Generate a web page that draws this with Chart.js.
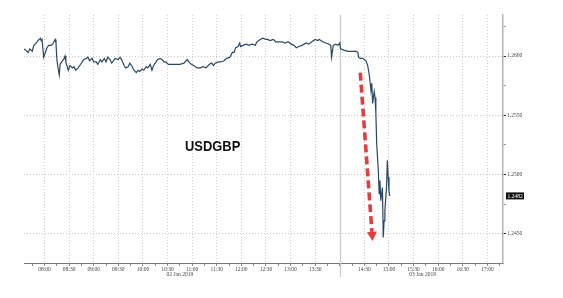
<!DOCTYPE html>
<html>
<head>
<meta charset="utf-8">
<script src="https://cdn.jsdelivr.net/npm/chart.js@4.4.1/dist/chart.umd.min.js"></script>
<style>
  html, body { margin: 0; padding: 0; background: #fff; }
  #wrap { width: 563px; height: 298px; position: relative; }
</style>
</head>
<body>
<div id="wrap"><canvas id="fxChart"></canvas></div>
<script>
// USDGBP, 02-03 Jan 2019 (times hh:mm)
const times = [
  '07:35','07:37','07:40','07:42','07:45','07:47','07:50','07:52','07:55','07:56','07:57','07:59',
  '08:01','08:03','08:05','08:08','08:10','08:13','08:14','08:15','08:16','08:18','08:19','08:21',
  '08:24','08:25','08:26','08:29','08:31','08:34','08:36','08:38','08:41','08:43','08:46','08:48',
  '08:51','08:53','08:55','08:58','09:00','09:03','09:05','09:08','09:10','09:13','09:15','09:17',
  '09:20','09:22','09:26','09:30','09:32','09:34','09:37','09:39','09:42','09:44','09:47','09:49',
  '09:52','09:54','09:56','09:59','10:01','10:04','10:06','10:09','10:11','10:13','10:16','10:18',
  '10:21','10:23','10:26','10:28','10:31','10:35','10:40','10:45','10:50','10:54','10:56','10:59',
  '11:02','11:06','11:10','11:13','11:17','11:21','11:24','11:26','11:28','11:32','11:35','11:39',
  '11:42','11:46','11:49','11:51','11:53','11:56','11:58','11:59','12:02','12:06','12:09','12:13',
  '12:17','12:19','12:23','12:26','12:30','12:32','12:35','12:39','12:42','12:46','12:50','12:53',
  '12:57','13:01','13:04','13:07','13:10','13:14','13:19','13:22','13:26','13:30','13:33','13:35',
  '13:39','13:43','13:47','13:49','13:50','13:52','13:55','13:58','14:00','14:01','14:05','14:10',
  '14:15','14:20','14:22','14:23','14:25','14:28','14:32','14:34','14:36','14:38','14:39','14:40',
  '14:42','14:43','14:44','14:45','14:47','14:48','14:49','14:50','14:52','14:53','14:54','14:55',
  '14:57','14:58','14:59','15:00','15:01'
];
const rates = [
  1.2606,1.2605,1.2603,1.2606,1.2604,1.2609,1.2611,1.2613,1.2615,1.2613,1.2614,1.2599,
  1.2603,1.2607,1.2609,1.2609,1.2610,1.2614,1.2611,1.2598,1.2592,1.2584,1.2593,1.2595,
  1.2598,1.2600,1.2595,1.2588,1.2592,1.2590,1.2591,1.2588,1.2590,1.2592,1.2595,1.2597,
  1.2598,1.2599,1.2596,1.2598,1.2595,1.2595,1.2593,1.2597,1.2595,1.2598,1.2595,1.2599,
  1.2597,1.2594,1.2598,1.2597,1.2599,1.2597,1.2592,1.2590,1.2591,1.2594,1.2591,1.2588,
  1.2586,1.2588,1.2587,1.2589,1.2588,1.2591,1.2590,1.2593,1.2588,1.2592,1.2595,1.2597,
  1.2598,1.2597,1.2595,1.2595,1.2593,1.2593,1.2593,1.2593,1.2594,1.2597,1.2595,1.2593,
  1.2592,1.2590,1.2590,1.2591,1.2590,1.2593,1.2594,1.2592,1.2594,1.2595,1.2595,1.2596,
  1.2598,1.2599,1.2603,1.2603,1.2607,1.2608,1.2611,1.2608,1.2609,1.2610,1.2609,1.2610,
  1.2609,1.2612,1.2614,1.2615,1.2614,1.2614,1.2613,1.2614,1.2612,1.2612,1.2612,1.2611,
  1.2612,1.2610,1.2609,1.2607,1.2608,1.2609,1.2611,1.2610,1.2612,1.2614,1.2613,1.2614,
  1.2612,1.2611,1.2610,1.2609,1.2599,1.2609,1.2610,1.2609,1.2611,1.2606,1.2605,1.2604,
  1.2604,1.2604,1.2603,1.2599,1.2598,1.2598,1.2596,1.2592,1.2584,1.2571,1.2577,1.2560,
  1.2570,1.2565,1.2552,1.2526,1.2503,1.2484,1.2495,1.2478,1.2489,1.2447,1.2461,1.2470,
  1.2489,1.2512,1.2498,1.2486,1.2482
];

const xTickLabels = ['08:00','08:30','09:00','09:30','10:00','10:30','11:00','11:30','12:00','12:30',
  '13:00','13:30','14:30','15:00','15:30','16:00','16:30','17:00'];
const yMajor = [1.2450, 1.2500, 1.2550, 1.2600];
const yMinor = [1.2475, 1.2525, 1.2575, 1.2625];
const dateLabels = ['02 Jan 2019', '03 Jan 2019'];
const dateLabelTimes = ['10:45', '15:41'];
const dayBreak = '14:00';
const title = 'USDGBP';
const titleAt = ['11:25', 1.2523];
const arrowFrom = ['14:25', 1.2586];
const arrowTo = ['14:40', 1.2444];

function mins(t) {
  const p = t.split(':');
  return (+p[0]) * 60 + (+p[1]);
}
function hhmm(m) {
  const h = Math.floor(m / 60), mm = m % 60;
  return String(h).padStart(2, '0') + ':' + String(mm).padStart(2, '0');
}

const labelMins = xTickLabels.map(mins);
const points = times.map(function(t, i){ return { x: mins(t), y: rates[i] }; });
const axisFont = { family: 'Liberation Serif', size: 5.5 };

const overlays = {
  id: 'overlays',
  beforeDatasetsDraw(chart) {
    const { ctx, chartArea, scales: { x } } = chart;
    const bx = Math.round(x.getPixelForValue(mins(dayBreak))) + 0.5;
    ctx.save();
    ctx.strokeStyle = '#c9c9c9';
    ctx.lineWidth = 1.2;
    ctx.beginPath();
    ctx.moveTo(bx, chartArea.top);
    ctx.lineTo(bx, chartArea.bottom + 14);
    ctx.stroke();
    ctx.restore();
  },
  afterDatasetsDraw(chart) {
    const { ctx, chartArea, scales: { x, y } } = chart;
    ctx.save();

    // red dashed arrow
    const x1 = x.getPixelForValue(mins(arrowFrom[0])), y1 = y.getPixelForValue(arrowFrom[1]);
    const x2 = x.getPixelForValue(mins(arrowTo[0])), y2 = y.getPixelForValue(arrowTo[1]);
    const ang = Math.atan2(y2 - y1, x2 - x1);
    const headLen = 9, headW = 5;
    const bxp = x2 - Math.cos(ang) * headLen, byp = y2 - Math.sin(ang) * headLen;
    ctx.strokeStyle = '#e23c3f';
    ctx.fillStyle = '#e23c3f';
    ctx.lineWidth = 3.6;
    ctx.setLineDash([8, 4]);
    ctx.beginPath();
    ctx.moveTo(x1, y1);
    ctx.lineTo(bxp, byp);
    ctx.stroke();
    ctx.setLineDash([]);
    ctx.beginPath();
    ctx.moveTo(x2, y2);
    ctx.lineTo(bxp + Math.sin(ang) * headW, byp - Math.cos(ang) * headW);
    ctx.lineTo(bxp - Math.sin(ang) * headW, byp + Math.cos(ang) * headW);
    ctx.closePath();
    ctx.fill();

    // title inside plot
    const tx = x.getPixelForValue(mins(titleAt[0])), ty = y.getPixelForValue(titleAt[1]);
    ctx.save();
    ctx.translate(tx, ty);
    ctx.scale(0.86, 1);
    ctx.fillStyle = '#111';
    ctx.font = 'bold 15px "Liberation Sans", Arial, sans-serif';
    ctx.textAlign = 'center';
    ctx.textBaseline = 'middle';
    ctx.fillText(title, 0, 0);
    ctx.restore();

    // last value tag
    const last = rates[rates.length - 1];
    const ly = y.getPixelForValue(last);
    ctx.fillStyle = '#111';
    ctx.fillRect(chartArea.right + 3, ly - 3.5, 18, 7);
    ctx.fillStyle = '#fff';
    ctx.font = '5.5px "Liberation Serif"';
    ctx.textAlign = 'left';
    ctx.textBaseline = 'middle';
    ctx.fillText(last.toFixed(4), chartArea.right + 4.5, ly + 0.3);

    // date labels under the time axis
    ctx.fillStyle = '#444';
    ctx.textAlign = 'center';
    dateLabels.forEach(function(lbl, i){
      ctx.fillText(lbl, x.getPixelForValue(mins(dateLabelTimes[i])), chartArea.bottom + 12);
    });
    ctx.restore();
  }
};

new Chart(document.getElementById('fxChart'), {
  type: 'line',
  data: {
    datasets: [{
      label: title,
      data: points,
      borderColor: '#2b4763',
      borderWidth: 1.2,
      pointRadius: 0,
      tension: 0
    }]
  },
  options: {
    responsive: true,
    maintainAspectRatio: false,
    animation: false,
    events: [],
    layout: { padding: { left: 24, top: 15, right: 0, bottom: 0 } },
    plugins: { legend: { display: false }, tooltip: { enabled: false } },
    scales: {
      x: {
        type: 'linear',
        min: 455,
        max: 1039,
        afterFit(s) { s.height = 35; },
        afterBuildTicks(s) {
          const t = [];
          for (let m = 465; m <= 1035; m += 15) t.push({ value: m });
          s.ticks = t;
        },
        ticks: {
          autoSkip: false,
          maxRotation: 0,
          padding: 0,
          color: '#444',
          font: axisFont,
          callback(v) { return labelMins.indexOf(v) >= 0 ? hhmm(v) : ''; }
        },
        grid: {
          color(c) { return c.tick && labelMins.indexOf(c.tick.value) >= 0 ? '#cdcdcd' : 'transparent'; },
          tickColor: '#888',
          tickLength: 3,
          lineWidth: 1
        },
        border: { display: true, color: '#777', width: 1, dash: [1, 2] }
      },
      y: {
        position: 'right',
        min: 1.24254,
        max: 1.26346,
        afterFit(s) { s.width = 60; },
        afterBuildTicks(s) {
          s.ticks = yMajor.concat(yMinor).sort().map(function(v){ return { value: v }; });
        },
        ticks: {
          padding: 1,
          color: '#444',
          font: axisFont,
          callback(v) { return yMajor.indexOf(v) >= 0 ? v.toFixed(4) : ''; }
        },
        grid: {
          color(c) { return c.tick && yMajor.indexOf(c.tick.value) >= 0 ? '#cdcdcd' : 'transparent'; },
          tickColor(c) { return c.tick && yMajor.indexOf(c.tick.value) >= 0 ? '#222' : '#999'; },
          tickLength: 3,
          lineWidth: 1
        },
        border: { display: true, color: '#b5b5b5', width: 1.5, dash: [1, 2] }
      }
    }
  },
  plugins: [overlays]
});
</script>
</body>
</html>
